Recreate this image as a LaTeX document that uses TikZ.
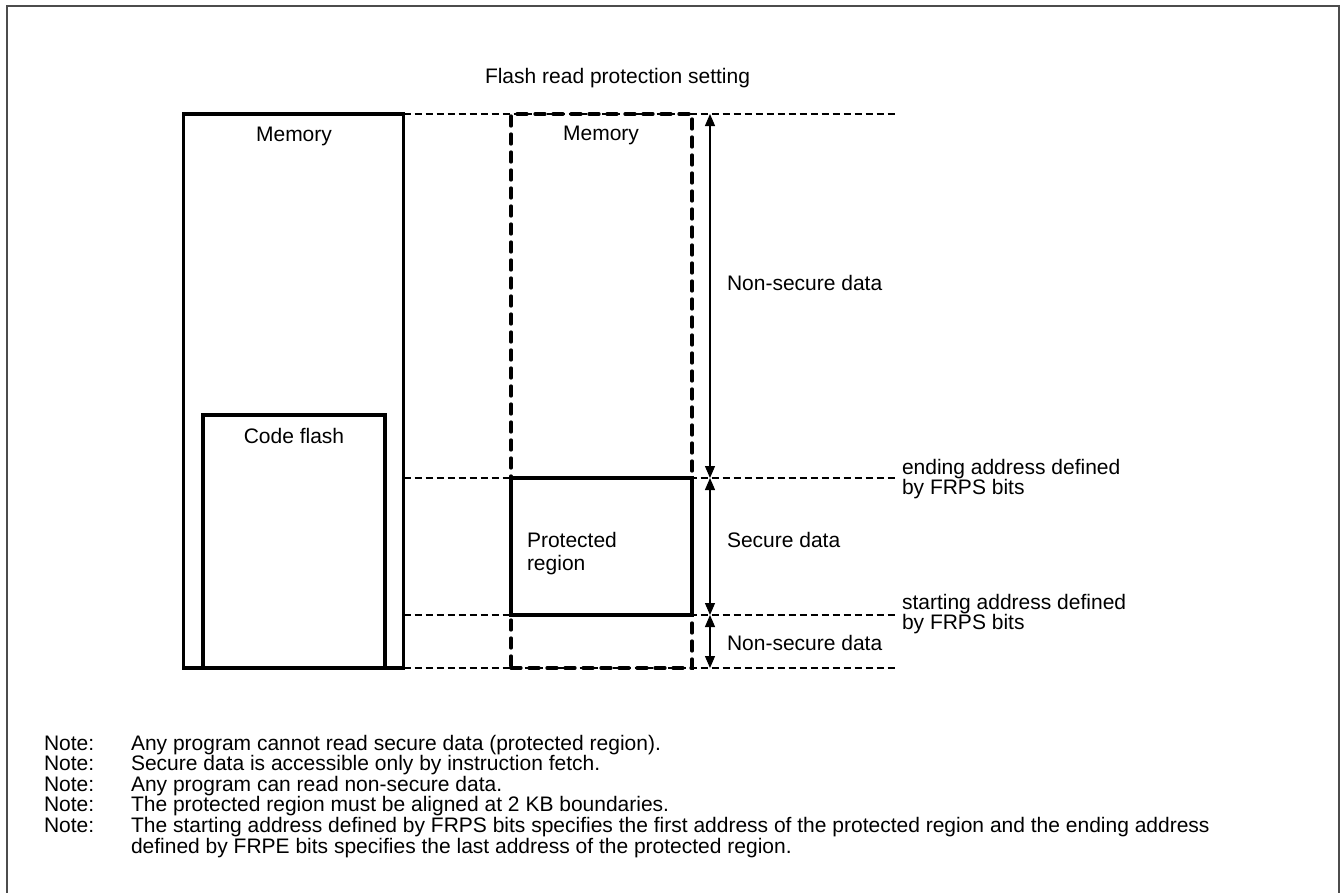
\documentclass[tikz,border=0pt]{standalone}
\usepackage{fontspec}
\setmainfont{Liberation Sans}
\usetikzlibrary{arrows.meta}
\begin{document}
\begin{tikzpicture}[x=1pt,y=-1pt,
  lbl/.style={font=\fontsize{21}{24}\selectfont, inner sep=0pt, outer sep=0pt},
  box/.style={draw, line width=3.3pt, inner sep=0pt, outer sep=0pt},
  dbox/.style={draw, line width=3.3pt, dash pattern=on 10pt off 8pt, line cap=round, inner sep=0pt, outer sep=0pt},
  guide/.style={line width=1.2pt, dash pattern=on 7pt off 4pt},
  dim/.style={line width=1.2pt, {Triangle[length=12pt,width=10pt]}-{Triangle[length=12pt,width=10pt]}},
  frame/.style={line width=2pt, draw=black!70}
]
\useasboundingbox (0,0) rectangle (1341,892);
% outer frame (bottom edge lies outside the picture)
\draw[frame] (6.5,900) -- (6.5,5.5) -- (1338.5,5.5) -- (1338.5,900);

% guide coordinates
\coordinate (g0l) at (403.5,114);
\coordinate (g0r) at (898,114);
\coordinate (g1l) at (403.5,478);
\coordinate (g1r) at (898,478);
\coordinate (g2l) at (403.5,615);
\coordinate (g2r) at (898,615);
\coordinate (g3l) at (403.5,668);
\coordinate (g3r) at (898,668);
\draw[guide] (g0l) -- (g0r);
\draw[guide] (g1l) -- (g1r);
\draw[guide] (g2l) -- (g2r);
\draw[guide] (g3l) -- (g3r);

% boxes
\node[box, minimum width=220pt, minimum height=554pt] (mem) at (293.5,391) {};
\node[box, minimum width=182pt, minimum height=253pt] (cf) at (294,541.5) {};
\node[dbox, minimum width=181pt, minimum height=554pt] (pmem) at (601.5,391) {};
\node[box, minimum width=181pt, minimum height=137pt] (prot) at (601.5,546.5) {};

% dimension arrows
\coordinate (a0) at (710,114);
\coordinate (a1) at (710,478);
\coordinate (a2) at (710,615);
\coordinate (a3) at (710,668);
\draw[dim] (a0) -- (a1);
\draw[dim] (a1) -- (a2);
\draw[dim] (a2) -- (a3);

% labels
\node[lbl, anchor=base west] (title) at (485,83) {Flash read protection setting};
\node[lbl, anchor=base] (memlbl) at (294,141) {Memory};
\node[lbl, anchor=base] (pmemlbl) at (601,140) {Memory};
\node[lbl, anchor=base] (cflbl) at (294,443) {Code flash};
\node[lbl, anchor=base west] (prot1) at (527,547) {Protected};
\node[lbl, anchor=base west] (prot2) at (527,570) {region};
\node[lbl, anchor=base west] (ns1) at (727,290) {Non-secure data};
\node[lbl, anchor=base west] (sec) at (727,547) {Secure data};
\node[lbl, anchor=base west] (ns2) at (727,650) {Non-secure data};
\node[lbl, anchor=base west] (end1) at (902,474) {ending address defined};
\node[lbl, anchor=base west] (end2) at (902,494) {by FRPS bits};
\node[lbl, anchor=base west] (st1) at (902,609) {starting address defined};
\node[lbl, anchor=base west] (st2) at (902,629) {by FRPS bits};

% notes
\node[lbl, anchor=base west] (n1) at (44,750) {Note:};
\node[lbl, anchor=base west] (t1) at (131,750) {Any program cannot read secure data (protected region).};
\node[lbl, anchor=base west] (n2) at (44,770.6) {Note:};
\node[lbl, anchor=base west] (t2) at (131,770.6) {Secure data is accessible only by instruction fetch.};
\node[lbl, anchor=base west] (n3) at (44,791.2) {Note:};
\node[lbl, anchor=base west] (t3) at (131,791.2) {Any program can read non-secure data.};
\node[lbl, anchor=base west] (n4) at (44,811.8) {Note:};
\node[lbl, anchor=base west] (t4) at (131,811.8) {The protected region must be aligned at 2 KB boundaries.};
\node[lbl, anchor=base west] (n5) at (44,832.4) {Note:};
\node[lbl, anchor=base west] (t5) at (131,832.4) {The starting address defined by FRPS bits specifies the first address of the protected region and the ending address};
\node[lbl, anchor=base west] (t6) at (131,853) {defined by FRPE bits specifies the last address of the protected region.};
\end{tikzpicture}
\end{document}
